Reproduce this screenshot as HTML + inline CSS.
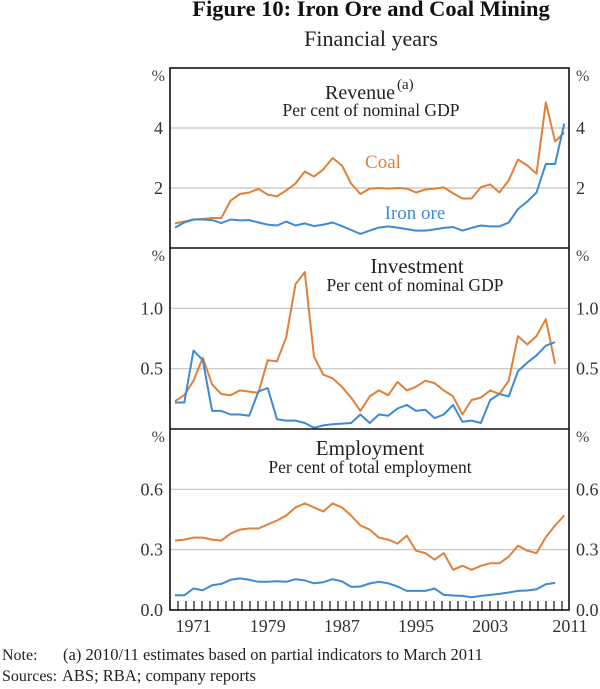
<!DOCTYPE html>
<html><head><meta charset="utf-8">
<style>
html,body{margin:0;padding:0;background:#fff;}
svg{display:block;font-family:"Liberation Serif",serif;}
</style></head>
<body>
<svg id="chart" width="600" height="689" viewBox="0 0 600 689" xmlns="http://www.w3.org/2000/svg">
  <text x="371" y="16" text-anchor="middle" font-size="22.5" font-weight="bold" fill="#111">Figure 10: Iron Ore and Coal Mining</text>
  <text x="371" y="46" text-anchor="middle" font-size="22" fill="#222">Financial years</text>
  <g id="plots"></g>
  <text x="2" y="660" font-size="16" fill="#222">Note:</text>
  <text x="63" y="660" font-size="16.5" fill="#222">(a) 2010/11 estimates based on partial indicators to March 2011</text>
  <text x="2" y="681" font-size="16" fill="#222">Sources:</text>
  <text x="62" y="681" font-size="16.5" fill="#222">ABS; RBA; company reports</text>
</svg>
<script>
const revYears0 = 1969;
const revCoal = [0.82,0.88,0.95,0.97,1.0,1.0,1.58,1.8,1.85,1.97,1.78,1.72,1.92,2.15,2.55,2.38,2.62,3.0,2.75,2.15,1.8,1.98,2.0,1.98,2.0,1.98,1.85,1.95,1.98,2.02,1.82,1.65,1.65,2.03,2.12,1.85,2.25,2.95,2.75,2.48,4.85,3.55,3.85];
const revIron = [0.68,0.85,0.95,0.95,0.93,0.83,0.95,0.92,0.93,0.85,0.78,0.75,0.88,0.75,0.82,0.73,0.78,0.85,0.73,0.6,0.47,0.58,0.68,0.72,0.68,0.63,0.58,0.58,0.62,0.67,0.7,0.58,0.67,0.75,0.72,0.72,0.85,1.3,1.55,1.85,2.8,2.8,4.15];
const invCoal = [0.23,0.28,0.40,0.59,0.37,0.29,0.28,0.32,0.31,0.30,0.57,0.56,0.76,1.2,1.3,0.6,0.45,0.42,0.35,0.26,0.15,0.27,0.32,0.28,0.39,0.32,0.35,0.40,0.38,0.32,0.27,0.12,0.24,0.26,0.32,0.29,0.40,0.77,0.70,0.77,0.91,0.54];
const invIron = [0.22,0.22,0.65,0.57,0.15,0.15,0.12,0.12,0.11,0.31,0.34,0.08,0.07,0.07,0.05,0.01,0.03,0.04,0.045,0.05,0.12,0.05,0.12,0.11,0.17,0.2,0.15,0.16,0.09,0.12,0.2,0.06,0.07,0.05,0.24,0.29,0.27,0.48,0.55,0.61,0.69,0.72];
const empCoal = [0.345,0.35,0.36,0.36,0.35,0.345,0.38,0.40,0.405,0.405,0.425,0.445,0.47,0.51,0.53,0.51,0.49,0.53,0.51,0.47,0.42,0.40,0.36,0.35,0.33,0.37,0.295,0.283,0.25,0.283,0.2,0.22,0.2,0.22,0.232,0.232,0.265,0.32,0.295,0.283,0.362,0.42,0.47];
const empIron = [0.073,0.073,0.107,0.098,0.123,0.13,0.15,0.157,0.15,0.14,0.14,0.143,0.14,0.153,0.147,0.133,0.138,0.153,0.142,0.115,0.117,0.132,0.14,0.133,0.117,0.095,0.095,0.095,0.107,0.075,0.072,0.07,0.063,0.07,0.075,0.08,0.087,0.095,0.097,0.103,0.128,0.135];
const yearLabels = [1971,1979,1987,1995,2003,2011];
const revTicks = [2,4];
const invTicks = [0.5,1.0];
const empTicks = [0.3,0.6];

const NS = "http://www.w3.org/2000/svg";
const ORANGE = "#E0813A", BLUE = "#3F8AD6";
const L = 170, R = 569;
const g = document.getElementById('plots');
function xpt(i){ return 175 + i*9.27; }
function mk(tag, attrs){ const e=document.createElementNS(NS,tag); for(const k in attrs) e.setAttribute(k,attrs[k]); g.appendChild(e); return e; }

const panels = [
  {top:68, bottom:248, max:6, ticks:revTicks, fmt:v=>String(v), series:[[revCoal,ORANGE,'revenue-coal-line'],[revIron,BLUE,'revenue-iron-ore-line']], name:'revenue'},
  {top:248, bottom:429, max:1.5, ticks:invTicks, fmt:v=>v.toFixed(1), series:[[invCoal,ORANGE,'investment-coal-line'],[invIron,BLUE,'investment-iron-ore-line']], name:'investment'},
  {top:429, bottom:610, max:0.9, ticks:empTicks, fmt:v=>v.toFixed(1), series:[[empCoal,ORANGE,'employment-coal-line'],[empIron,BLUE,'employment-iron-ore-line']], name:'employment', zero:true}
];

panels.forEach(p=>{
  const y = v => p.bottom - v/p.max*(p.bottom-p.top);
  p.ticks.forEach(t=>{
    const gl = mk('line',{x1:L,x2:R,y1:y(t),y2:y(t),stroke:'#c4c4c4','stroke-width':1.2});
    
    
    const tl = mk('text',{x:163,y:y(t)+6,'text-anchor':'end','font-size':18,fill:'#333'});
    tl.textContent = p.fmt(t);
    
    
    const tr = mk('text',{x:576,y:y(t)+6,'font-size':18,fill:'#333'});
    tr.textContent = p.fmt(t);
    
    
  });
  if(p.zero){
    const z1 = mk('text',{x:163,y:p.bottom+6,'text-anchor':'end','font-size':18,fill:'#333'}); z1.textContent='0.0';
    
    
    const z2 = mk('text',{x:576,y:p.bottom+6,'font-size':18,fill:'#333'}); z2.textContent='0.0';
    
    
  }
  const pl = mk('text',{x:165,y:p.top+13,'text-anchor':'end','font-size':16,fill:'#444'}); pl.textContent='%';
  
  
  const pr = mk('text',{x:576,y:p.top+13,'font-size':16,fill:'#444'}); pr.textContent='%';
  
  
  p.series.forEach(s=>{
    const pts = s[0].map((v,i)=>xpt(i).toFixed(1)+','+y(v).toFixed(1)).join(' ');
    const line = mk('polyline',{points:pts,fill:'none',stroke:s[1],'stroke-width':2,'stroke-linejoin':'round'});
    
    
  });
});

const frame = mk('rect',{x:L,y:68,width:R-L,height:610-68,fill:'none',stroke:'#111','stroke-width':1.6});


[248,429].forEach(yy=>{
  const s = mk('line',{x1:L,x2:R,y1:yy,y2:yy,stroke:'#111','stroke-width':1.6});
  
  
});
for(let i=0;i<50;i++){
  const xx = L + 8*i;
  if(xx>=R) break;
  const t = mk('line',{x1:xx,x2:xx,y1:610,y2:601,stroke:'#111','stroke-width':1.2});
  
  
}
yearLabels.forEach(yr=>{
  const xx = Math.min(xpt(yr-revYears0)+(yr===2011?6:0), 570);
  const t = mk('text',{x:xx,y:632,'text-anchor':'middle','font-size':18,fill:'#333'});
  t.textContent = yr;
  
  
});

function label(txt,x,yy,size,fill,name){
  const t = mk('text',{x:x,y:yy,'text-anchor':'middle','font-size':size,fill:fill});
  t.textContent = txt;
  
  
  return t;
}
label('Revenue',360,99,20,'#222','revenue-title');
const sup = mk('text',{x:397,y:89,'font-size':15,fill:'#222'}); sup.textContent='(a)';


label('Per cent of nominal GDP',371,116,17.5,'#222','revenue-subtitle');
label('Coal',383,168,19,ORANGE,'coal-series-label');
label('Iron ore',415,219,19,BLUE,'iron-ore-series-label');
label('Investment',417,273,21,'#222','investment-title');
label('Per cent of nominal GDP',415,291,17.5,'#222','investment-subtitle');
label('Employment',370,455,21,'#222','employment-title');
label('Per cent of total employment',370,473,17.5,'#222','employment-subtitle');
</script>
</body></html>
